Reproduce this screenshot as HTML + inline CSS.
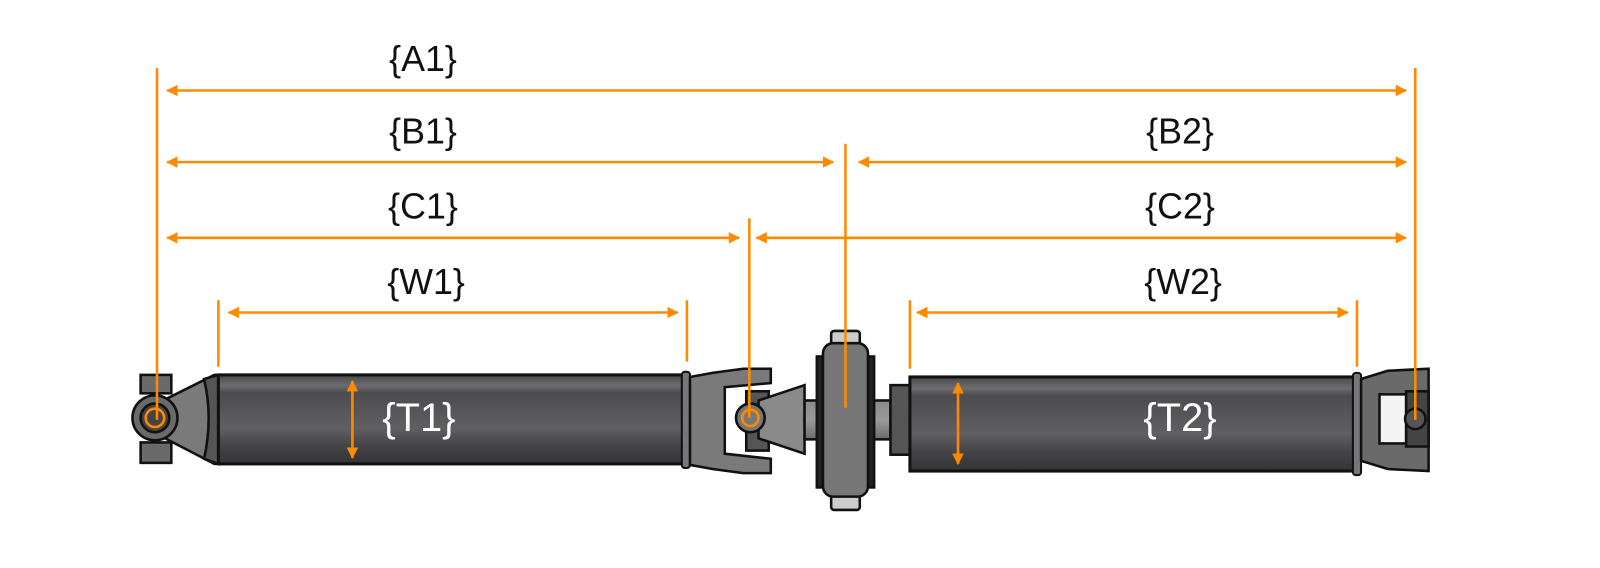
<!DOCTYPE html>
<html><head><meta charset="utf-8"><style>html,body{margin:0;padding:0;background:#fff}svg{display:block}</style></head>
<body>
<svg width="1600" height="568" viewBox="0 0 1600 568" xmlns="http://www.w3.org/2000/svg">
<defs>
<linearGradient id="tube" x1="0" y1="0" x2="0" y2="1">
<stop offset="0" stop-color="#4a4a4c"/><stop offset="0.12" stop-color="#6d6d6f"/><stop offset="0.2" stop-color="#4c4c4e"/>
<stop offset="0.45" stop-color="#58585a"/><stop offset="0.6" stop-color="#606062"/><stop offset="0.8" stop-color="#444446"/><stop offset="1" stop-color="#343436"/>
</linearGradient>
<linearGradient id="metal" x1="0" y1="0" x2="0" y2="1">
<stop offset="0" stop-color="#8a8a8a"/><stop offset="0.5" stop-color="#9a9a9a"/><stop offset="1" stop-color="#6a6a6a"/>
</linearGradient>
<marker id="ah" viewBox="0 0 10 10" refX="9" refY="5" markerWidth="4.5" markerHeight="4.5" orient="auto-start-reverse" markerUnits="strokeWidth"><path d="M0,0 L10,5 L0,10 z" fill="#ff8a00"/></marker>
</defs>
<g transform="translate(157,68) scale(1.023,1.023) translate(-157,-68)">
<!-- left yoke -->
<g stroke="#111" stroke-width="2.5">
<rect x="141" y="368" width="30" height="18" fill="#6a6a6a"/>
<rect x="141" y="434" width="30" height="20" fill="#6a6a6a"/>
<path d="M165,392 L213,368 L217,368 L217,455 L213,455 L165,430 Z" fill="#7a7a7a"/>
<path d="M203,372 Q212,410 203,450 L217,455 L217,368 Z" fill="#555"/>
<circle cx="155" cy="410" r="22" fill="#6a6a6a"/>
<circle cx="155" cy="410" r="14" fill="#444"/>
</g>
<circle cx="155" cy="410" r="9" fill="none" stroke="#ff8a00" stroke-width="2.5"/>
<!-- left tube -->
<rect x="217" y="368" width="457" height="87" fill="url(#tube)" stroke="#111" stroke-width="3"/>
<rect x="670" y="365" width="8" height="94" rx="3" fill="#777" stroke="#111" stroke-width="2"/>
<!-- middle yoke -->
<g stroke="#111" stroke-width="2.5">
<path d="M678,370 L700,366 L730,362 L757,362 L757,376 L712,380 L712,445 L757,450 L757,464 L730,464 L700,460 L678,456 Z" fill="#7a7a7a"/>
<rect x="733" y="384" width="22" height="58" fill="#555"/>
<path d="M745,393 L790,378 L790,445 L745,430 Z" fill="#8a8a8a"/>
<circle cx="737" cy="410" r="14" fill="#777"/>
<rect x="790" y="393" width="20" height="38" fill="url(#metal)"/>
<rect x="852" y="393" width="22" height="38" fill="url(#metal)"/>
<!-- bearing -->
<rect x="816" y="325" width="28" height="20" rx="3" fill="#ccc"/>
<rect x="816" y="480" width="28" height="20" rx="3" fill="#ccc"/>
<rect x="802" y="350" width="56" height="128" fill="#222"/>
<rect x="808" y="337" width="44" height="150" rx="10" fill="#777"/>
<rect x="874" y="378" width="20" height="68" fill="#555"/>
</g>
<circle cx="737" cy="410" r="8" fill="none" stroke="#ff8a00" stroke-width="2.5"/>
<!-- right tube -->
<rect x="893" y="370" width="436" height="92" fill="url(#tube)" stroke="#111" stroke-width="3"/>
<rect x="1326" y="366" width="8" height="100" rx="3" fill="#777" stroke="#111" stroke-width="2"/>
<!-- right yoke -->
<g stroke="#111" stroke-width="2.5">
<path d="M1334,372 L1360,364 L1400,362 L1400,462 L1360,460 L1334,452 Z" fill="#6a6a6a"/>
<rect x="1352" y="387" width="30" height="48" fill="#f4f4f4"/>
<rect x="1378" y="384" width="22" height="54" fill="#444"/>
<circle cx="1387" cy="411" r="10" fill="#555"/>
</g>
<!-- dimension lines -->
<g stroke="#ff8a00" stroke-width="2.5" fill="none">
<line x1="157" y1="68" x2="157" y2="412"/>
<line x1="217" y1="295" x2="217" y2="360"/>
<line x1="675" y1="295" x2="675" y2="355"/>
<line x1="736" y1="215" x2="736" y2="410"/>
<line x1="830" y1="142" x2="830" y2="400"/>
<line x1="893" y1="295" x2="893" y2="362"/>
<line x1="1330" y1="295" x2="1330" y2="360"/>
<line x1="1387" y1="68" x2="1387" y2="412"/>
<line x1="167" y1="90" x2="1378" y2="90" marker-start="url(#ah)" marker-end="url(#ah)"/>
<line x1="167" y1="160" x2="818" y2="160" marker-start="url(#ah)" marker-end="url(#ah)"/>
<line x1="843" y1="160" x2="1378" y2="160" marker-start="url(#ah)" marker-end="url(#ah)"/>
<line x1="167" y1="234" x2="726" y2="234" marker-start="url(#ah)" marker-end="url(#ah)"/>
<line x1="743" y1="234" x2="1378" y2="234" marker-start="url(#ah)" marker-end="url(#ah)"/>
<line x1="227" y1="307" x2="666" y2="307" marker-start="url(#ah)" marker-end="url(#ah)"/>
<line x1="900" y1="307" x2="1321" y2="307" marker-start="url(#ah)" marker-end="url(#ah)"/>
<line x1="348" y1="374" x2="348" y2="449" marker-start="url(#ah)" marker-end="url(#ah)"/>
<line x1="940" y1="376" x2="940" y2="455" marker-start="url(#ah)" marker-end="url(#ah)"/>
</g>
<g font-family="Liberation Sans, Arial, sans-serif" font-size="35" fill="#111" text-anchor="middle">
<text x="417" y="71">{A1}</text>
<text x="417" y="142">{B1}</text>
<text x="1157" y="142">{B2}</text>
<text x="417" y="215">{C1}</text>
<text x="1157" y="215">{C2}</text>
<text x="420" y="289">{W1}</text>
<text x="1160" y="289">{W2}</text>
</g>
<g font-family="Liberation Sans, Arial, sans-serif" font-size="39" fill="#fff" text-anchor="middle">
<text x="413" y="423">{T1}</text>
<text x="1157" y="423">{T2}</text>
</g>
</g>
</svg>
</body></html>
